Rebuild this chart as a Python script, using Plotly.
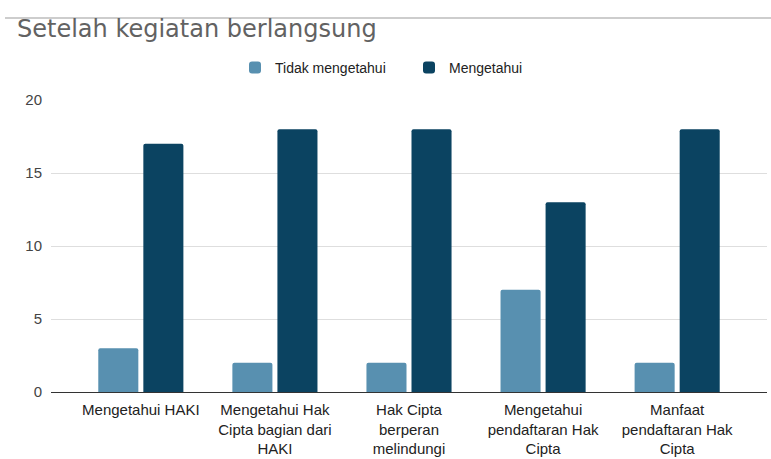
import plotly.graph_objects as go

categories = [
    "Mengetahui HAKI",
    "Mengetahui Hak<br>Cipta bagian dari<br>HAKI",
    "Hak Cipta<br>berperan<br>melindungi<br>lukisan",
    "Mengetahui<br>pendaftaran Hak<br>Cipta",
    "Manfaat<br>pendaftaran Hak<br>Cipta",
]
tidak_mengetahui = [3, 2, 2, 7, 2]
mengetahui = [17, 18, 18, 13, 18]
y_ticks = [0, 5, 10, 15, 20]

fig = go.Figure()
fig.add_trace(go.Bar(x=categories, y=tidak_mengetahui, name="Tidak mengetahui",
                     marker=dict(color="#5890B0", line=dict(width=0))))
fig.add_trace(go.Bar(x=categories, y=mengetahui, name="Mengetahui",
                     marker=dict(color="#0B4361", line=dict(width=0))))

fig.update_layout(
    width=771, height=459,
    margin=dict(l=51, r=4, t=100, b=67, autoexpand=False),
    paper_bgcolor="white", plot_bgcolor="white",
    barmode="group", bargap=0.328, bargroupgap=0.111, barcornerradius=2,
    title=dict(text="Setelah kegiatan berlangsung", x=17/771, xanchor="left",
               xref="container", y=1-29/459, yanchor="middle", yref="container",
               font=dict(family="DejaVu Sans", size=24, color="#626262")),
    legend=dict(orientation="h", x=(235-51)/716, xanchor="left", y=(392-68)/292, yanchor="middle",
                font=dict(family="Liberation Sans, Arial", size=14, color="#222222"),
                itemwidth=30, traceorder="normal", entrywidth=129),
    font=dict(family="Liberation Sans, Arial", size=14, color="#444444"),
    xaxis=dict(type="category", range=[-0.67, 4.67], showline=True, linecolor="#333333",
               linewidth=1, showgrid=False, ticks="", automargin=False, tickangle=0,
               tickfont=dict(size=15, color="#222222"), ticklabelstandoff=4),
    yaxis=dict(range=[0, 20], tickvals=y_ticks, showgrid=True, gridcolor="#dedede",
               gridwidth=1, zeroline=False, ticks="", automargin=False,
               tickfont=dict(size=15, color="#444444"), ticklabelstandoff=8),
    shapes=[dict(type="line", xref="paper", yref="paper", x0=(5-51)/716, x1=(771-51)/716,
                 y0=(392-18)/292, y1=(392-18)/292, line=dict(color="#bdbdbd", width=1.5))],
)

fig.write_html("out.html", post_script="document.body.style.margin='0';",
               config={"displayModeBar": False})
